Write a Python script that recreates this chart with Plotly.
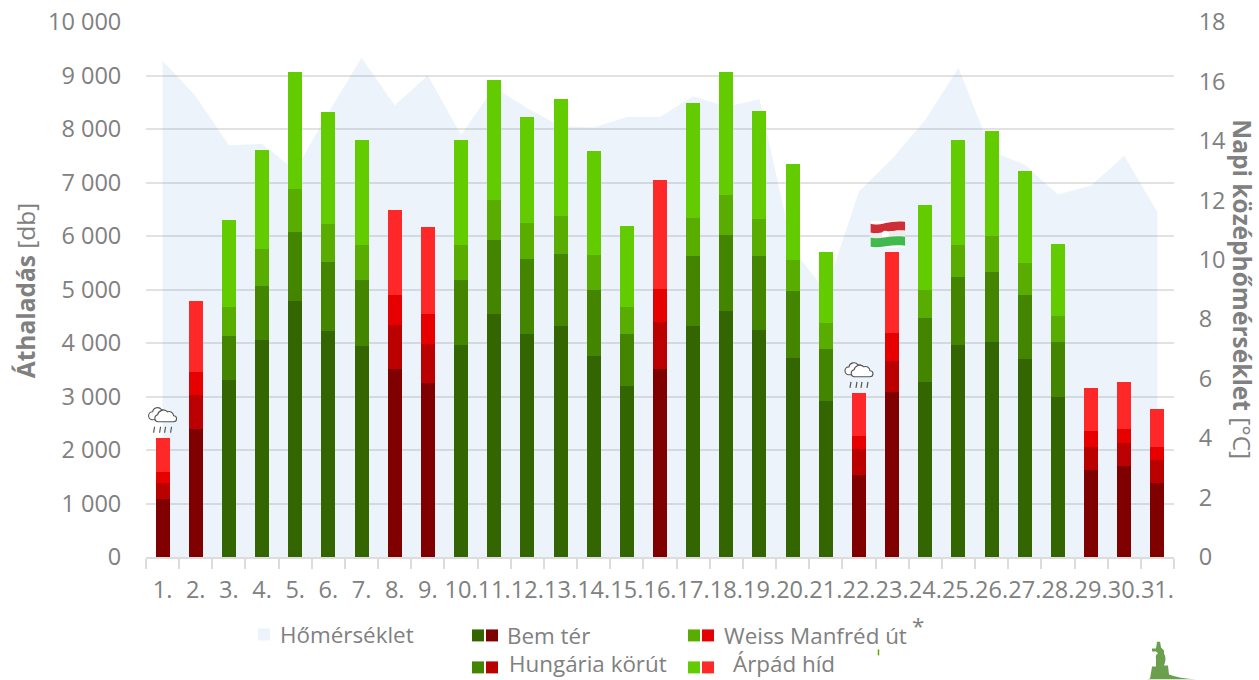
import base64
import plotly.graph_objects as go

days = [f"{d}." for d in range(1, 32)]

# Daily crossings per counting station
bem = [1090, 2390, 3300, 4060, 4790, 4230, 3940, 3510, 3250, 3960, 4540, 4170, 4310, 3760, 3200, 3520,
       4320, 4590, 4250, 3720, 2920, 1540, 3090, 3280, 3960, 4020, 3710, 3000, 1630, 1700, 1390]
hungaria = [300, 630, 840, 1010, 1290, 1290, 1230, 830, 730, 1210, 1390, 1400, 1350, 1240, 960, 880,
            1300, 1430, 1370, 1250, 960, 480, 580, 1180, 1270, 1310, 1190, 1020, 430, 430, 430]
weiss = [205, 430, 540, 680, 790, 700, 660, 560, 560, 660, 740, 680, 710, 640, 520, 610,
         710, 750, 690, 580, 490, 240, 520, 530, 610, 670, 600, 490, 300, 270, 230]
arpad = [635, 1340, 1620, 1860, 2190, 2090, 1960, 1590, 1630, 1960, 2240, 1970, 2190, 1940, 1510, 2030,
         2150, 2300, 2030, 1790, 1330, 810, 1515, 1590, 1950, 1960, 1710, 1340, 800, 880, 710]

# Daily mean temperature in degrees Celsius
temperature = [16.7, 15.5, 13.85, 13.9, 13.0, 14.95, 16.8, 15.2, 16.2, 14.2, 15.8, 15.1, 14.5, 14.45, 14.8, 14.8,
               15.5, 15.15, 15.4, 10.35, 8.95, 12.3, 13.4, 14.7, 16.45, 13.65, 13.2, 12.2, 12.5, 13.5, 11.6]

# Days below the reference level are coloured red
low_days = [1, 2, 8, 9, 16, 22, 23, 29, 30, 31]
rain_days = [1, 22]
holiday_days = [23]

GREENS = ["#336600", "#448500", "#58ad00", "#63cc00"]
REDS = ["#800000", "#bb0000", "#e60000", "#ff2828"]
GREY = "#808080"
FONT = "Open Sans"


def svg_uri(svg):
    return "data:image/svg+xml;base64," + base64.b64encode(svg.encode()).decode()


CLOUD = svg_uri(
    '<svg xmlns="http://www.w3.org/2000/svg" viewBox="0 0 32 28">'
    '<g fill="#fff" stroke="#555" stroke-width="1.1">'
    '<path d="M6 13 a4 4 0 0 1 0-8 a5 5 0 0 1 9-2 a4 4 0 0 1 4 2 l-2 8z"/>'
    '<path d="M11 15 a3.6 3.6 0 0 1 0-7 a6 6 0 0 1 10-3 a4.5 4.5 0 0 1 6 4 a3 3 0 0 1 0 6z"/></g>'
    '<g stroke="#555" stroke-width="1.2">'
    '<path d="M7 26 l1-6M13 26 l1-6M18 26 l1-6M24 26 l1-6"/></g></svg>')

FLAG = svg_uri(
    '<svg xmlns="http://www.w3.org/2000/svg" viewBox="0 0 35 27">'
    '<rect width="35" height="27" fill="#fff"/>'
    '<path d="M0 3 C9 6 18 -1 35 1 V10 C20 9 10 14 0 12Z" fill="#cd2f35"/>'
    '<path d="M0 12 C10 14 20 9 35 10 V16 C20 14 10 19 0 17Z" fill="#ececec"/>'
    '<circle cx="15" cy="13.5" r="3.5" fill="#fff"/>'
    '<path d="M0 17 C10 19 20 14 35 16 V25 C20 23 10 28 0 26Z" fill="#41b94f"/></svg>')

LOGO = svg_uri(
    '<svg xmlns="http://www.w3.org/2000/svg" viewBox="0 0 50 38">'
    '<path d="M0 38 L3 37 L5 25 H9 V18 Q8 13 11 12 L9 10 H5 V7 H9 L10 0 H13 L14 6 L17 9 L17 12 '
    'Q20 17 17 24 H21 L22 33 Q32 37 50 38Z" fill="#6a9f4d"/></svg>')

fig = go.Figure()

# Temperature area sits on the primary axis so the bars stay above it
fig.add_trace(go.Scatter(
    x=days, y=temperature, mode="lines", line=dict(width=0), fill="tozeroy",
    fillcolor="rgba(70,140,220,0.10)", yaxis="y", showlegend=False, name="Hőmérséklet"))

for i, (name, values) in enumerate([("Bem tér", bem), ("Hungária körút", hungaria),
                                    ("Weiss Manfréd út", weiss), ("Árpád híd", arpad)]):
    colors = [REDS[i] if d + 1 in low_days else GREENS[i] for d in range(31)]
    fig.add_trace(go.Bar(x=days, y=values, name=name, marker=dict(color=colors, line=dict(width=0)),
                         yaxis="y2", showlegend=False))

totals = [a + b + c + d for a, b, c, d in zip(bem, hungaria, weiss, arpad)]
images = []
for d in rain_days:
    images.append(dict(source=CLOUD, xref="x", yref="y2", x=d - 1, y=totals[d - 1] + 55,
                       sizex=1.0, sizey=523, xanchor="center", yanchor="bottom", layer="above"))
for d in holiday_days:
    images.append(dict(source=FLAG, xref="x", yref="y2", x=d - 1.13, y=totals[d - 1] + 75,
                       sizex=1.05, sizey=505, xanchor="center", yanchor="bottom", layer="above",
                       sizing="stretch"))
images.append(dict(source=LOGO, xref="paper", yref="paper", x=(1147 - 146) / 1028, y=-122.5 / 535.5,
                   sizex=50 / 1028, sizey=38 / 535.5, xanchor="left", yanchor="bottom", layer="above"))


# Hand-built legend with paired green and red swatches
def px(x):
    return (x - 146) / 1028


def py(y):
    return (557.5 - y) / 535.5


shapes = []
annotations = []


def swatch(x, y, color):
    shapes.append(dict(type="rect", xref="paper", yref="paper", x0=px(x), x1=px(x + 12),
                       y0=py(y + 12), y1=py(y), fillcolor=color, line=dict(width=0)))


def legend_text(x, y, text, size=22.4):
    annotations.append(dict(text=text, xref="paper", yref="paper", x=px(x), y=py(y), showarrow=False,
                            xanchor="left", yanchor="middle", font=dict(size=size, color=GREY, family=FONT)))


swatch(258, 629, "#ecf3fb")
legend_text(278, 635, "Hőmérséklet")
swatch(472, 630, GREENS[0]); swatch(486, 630, REDS[0])
legend_text(505, 636, "Bem tér")
swatch(472, 662, GREENS[1]); swatch(486, 662, REDS[1])
legend_text(507, 664, "Hungária körút")
swatch(688, 630, GREENS[2]); swatch(702, 630, REDS[2])
legend_text(722, 636, "Weiss Manfréd út")
swatch(688, 662, GREENS[3]); swatch(702, 662, REDS[3])
legend_text(731, 664, "Árpád híd")
legend_text(910, 626, "*")
shapes.append(dict(type="line", xref="paper", yref="paper", x0=px(878.5), x1=px(878.5),
                   y0=py(656), y1=py(650), line=dict(color="#58ad00", width=1.5)))

# Axis titles
annotations.append(dict(text="<b>Áthaladás</b> [db]", xref="paper", yref="paper", x=px(25), y=py(290.5),
                        textangle=-90, showarrow=False, xanchor="center", yanchor="middle",
                        font=dict(size=24.5, color=GREY, family=FONT)))
annotations.append(dict(text="<b>Napi középhőmérséklet</b> [°C]", xref="paper", yref="paper", x=px(1242.5),
                        y=py(289), textangle=90, showarrow=False, xanchor="center", yanchor="middle",
                        font=dict(size=24.5, color=GREY, family=FONT)))

tick_font = dict(size=23.5, color=GREY, family=FONT)
fig.update_layout(
    width=1259, height=680, autosize=False, separators=", ",
    margin=dict(l=146, r=85, t=22, b=122.5),
    paper_bgcolor="white", plot_bgcolor="white",
    barmode="stack", bargap=0.578,
    font=dict(family=FONT, color=GREY),
    xaxis=dict(type="category", categoryorder="array", categoryarray=days, tickson="boundaries",
               ticks="outside", ticklen=10, tickwidth=2, tickcolor="#dcdcdc", showline=True,
               linecolor="#dcdcdc", linewidth=2, showgrid=False, tickangle=0, tickfont=tick_font,
               ticklabelstandoff=11, zeroline=False, automargin=False),
    yaxis=dict(side="right", range=[0, 18], dtick=2, showgrid=False, zeroline=False, tickfont=tick_font,
               ticks="outside", ticklen=1, tickcolor="rgba(0,0,0,0)", ticklabelstandoff=18, automargin=False),
    yaxis2=dict(side="left", overlaying="y", range=[0, 10000], dtick=1000, tickformat=",d",
                showgrid=True, gridcolor="#e2e2e2", gridwidth=2, zeroline=False, tickfont=tick_font,
                ticks="outside", ticklen=1, tickcolor="rgba(0,0,0,0)", ticklabelstandoff=18, automargin=False),
    images=images, shapes=shapes, annotations=annotations,
)

fig.write_html("out.html")
